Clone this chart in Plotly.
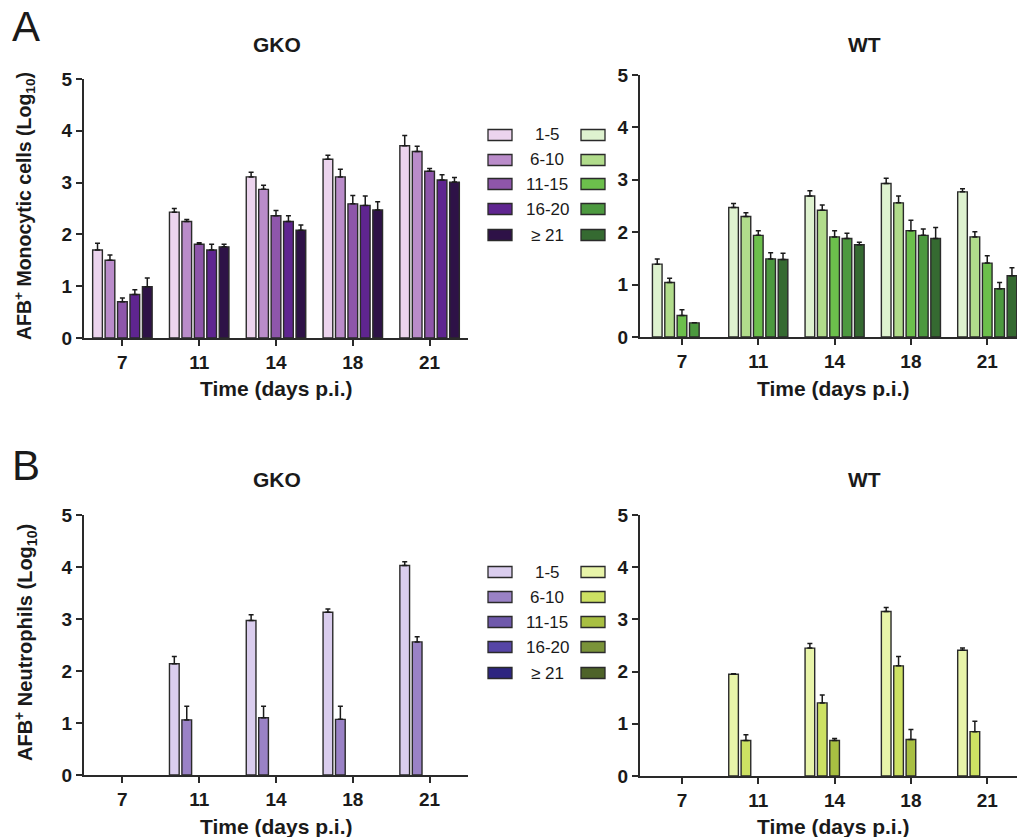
import plotly.graph_objects as go

W, H = 1017, 837

days = ["7", "11", "14", "18", "21"]
groups = ["1-5", "6-10", "11-15", "16-20", "≥ 21"]

# AFB+ monocytic cells, GKO (one list per group, values per day)
mono_gko_mean = [
    [1.70, 2.43, 3.11, 3.45, 3.71],
    [1.50, 2.25, 2.87, 3.11, 3.60],
    [0.70, 1.81, 2.36, 2.59, 3.22],
    [0.84, 1.70, 2.25, 2.56, 3.05],
    [0.99, 1.76, 2.08, 2.47, 3.01],
]
mono_gko_err = [
    [0.13, 0.07, 0.09, 0.08, 0.20],
    [0.10, 0.04, 0.08, 0.15, 0.10],
    [0.07, 0.03, 0.10, 0.16, 0.05],
    [0.09, 0.11, 0.11, 0.18, 0.10],
    [0.17, 0.05, 0.10, 0.16, 0.09],
]
# AFB+ monocytic cells, WT
mono_wt_mean = [
    [1.39, 2.47, 2.69, 2.93, 2.77],
    [1.04, 2.30, 2.42, 2.56, 1.91],
    [0.41, 1.94, 1.91, 2.03, 1.41],
    [0.27, 1.49, 1.88, 1.94, 0.92],
    [None, 1.48, 1.76, 1.88, 1.17],
]
mono_wt_err = [
    [0.10, 0.08, 0.10, 0.10, 0.06],
    [0.08, 0.07, 0.10, 0.13, 0.10],
    [0.11, 0.09, 0.12, 0.20, 0.14],
    [0.00, 0.12, 0.10, 0.12, 0.12],
    [0.00, 0.12, 0.05, 0.21, 0.15],
]
# AFB+ neutrophils, GKO
neut_gko_mean = [
    [None, 2.14, 2.97, 3.13, 4.03],
    [None, 1.06, 1.10, 1.07, 2.56],
    [None, None, None, None, None],
    [None, None, None, None, None],
    [None, None, None, None, None],
]
neut_gko_err = [
    [0, 0.14, 0.11, 0.06, 0.07],
    [0, 0.26, 0.22, 0.25, 0.10],
    [0, 0, 0, 0, 0],
    [0, 0, 0, 0, 0],
    [0, 0, 0, 0, 0],
]
# AFB+ neutrophils, WT
neut_wt_mean = [
    [None, 1.95, 2.45, 3.15, 2.41],
    [None, 0.68, 1.40, 2.11, 0.85],
    [None, None, 0.68, 0.70, None],
    [None, None, None, None, None],
    [None, None, None, None, None],
]
neut_wt_err = [
    [0, 0.01, 0.09, 0.08, 0.04],
    [0, 0.11, 0.15, 0.18, 0.20],
    [0, 0, 0.04, 0.19, 0],
    [0, 0, 0, 0, 0],
    [0, 0, 0, 0, 0],
]

col_mono_gko = ["#ecd4ee", "#ba8cca", "#8e56aa", "#5f2590", "#2e1247"]
col_mono_wt = ["#def2cf", "#b1dc8b", "#6cbf4c", "#4c993f", "#356a31"]
col_neut_gko = ["#dacdee", "#9a82c6", "#6f59ab", "#5645a6", "#2d2580"]
col_neut_wt = ["#e8f4a9", "#cde163", "#a8bf42", "#7a9339", "#4e6329"]

FONT = "Liberation Sans, Arial, sans-serif"
INK = "#1a1a1a"


def px_x(p):
    return p / W


def px_y(p):
    return 1 - p / H


panels = [
    # (means, errs, colors, axis index, x range)
    (mono_gko_mean, mono_gko_err, col_mono_gko, 1, [-0.5, 4.5]),
    (mono_wt_mean, mono_wt_err, col_mono_wt, 2, [-0.55, 4.39]),
    (neut_gko_mean, neut_gko_err, col_neut_gko, 3, [-0.5, 4.5]),
    (neut_wt_mean, neut_wt_err, col_neut_wt, 4, [-0.55, 4.39]),
]

fig = go.Figure()
for means, errs, cols, k, xr in panels:
    for g in range(5):
        fig.add_trace(go.Bar(
            x=days, y=means[g], name=groups[g],
            marker=dict(color=cols[g], line=dict(color="#2a2a2a", width=1.4)),
            error_y=dict(type="data", array=errs[g], arrayminus=[0] * 5,
                         symmetric=False, color=INK, thickness=1.5, width=2.5),
            xaxis="x" if k == 1 else f"x{k}",
            yaxis="y" if k == 1 else f"y{k}",
            showlegend=False,
        ))

# panel pixel geometry: (x_left, x_right, y_bottom(0), y_top(5))
geom = {
    1: (84, 468, 338, 79),
    2: (640, 1017, 337, 75),
    3: (84, 468, 775, 515),
    4: (640, 1017, 776, 515),
}

layout = dict(
    width=W, height=H,
    margin=dict(l=0, r=0, t=0, b=0, autoexpand=False),
    paper_bgcolor="white", plot_bgcolor="white",
    barmode="group", bargap=0.19, bargroupgap=0.22,
    font=dict(family=FONT, color=INK),
)
for k, (xl, xr_, yb, yt) in geom.items():
    xr = panels[k - 1][4]
    xa = "xaxis" if k == 1 else f"xaxis{k}"
    ya = "yaxis" if k == 1 else f"yaxis{k}"
    layout[xa] = dict(
        domain=[px_x(xl), min(1.0, px_x(xr_))], anchor="y" if k == 1 else f"y{k}",
        type="category", range=xr, showgrid=False, zeroline=False,
        showline=True, linecolor="#2a2a2a", linewidth=2,
        ticks="outside", ticklen=6, tickwidth=2, tickcolor="#2a2a2a",
        tickfont=dict(family=FONT, size=19, color=INK, weight="bold"),
        fixedrange=True, automargin=False,
    )
    layout[ya] = dict(
        domain=[px_y(yb), px_y(yt)], anchor="x" if k == 1 else f"x{k}",
        range=[0, 5], tickvals=[0, 1, 2, 3, 4, 5], showgrid=False, zeroline=False,
        showline=True, linecolor="#2a2a2a", linewidth=2,
        ticks="outside", ticklen=6, tickwidth=2, tickcolor="#2a2a2a",
        tickfont=dict(family=FONT, size=19, color=INK, weight="bold"),
        fixedrange=True, automargin=False,
    )
fig.update_layout(**layout)

ann = []
shapes = []


def text(x, y, s, size, bold=True, angle=0, anchor="center"):
    ann.append(dict(
        x=px_x(x), y=px_y(y), xref="paper", yref="paper", text=s,
        showarrow=False, textangle=angle, xanchor=anchor, yanchor="middle",
        font=dict(family=FONT, size=size, color=INK, weight="bold" if bold else "normal"),
    ))


# panel letters
text(10, 27, "A", 42, bold=False, anchor="left")
text(10, 466, "B", 42, bold=False, anchor="left")
# subplot titles
text(277, 44, "GKO", 21)
text(864, 44, "WT", 21)
text(277, 479, "GKO", 21)
text(864, 479, "WT", 21)
# x titles
text(276, 388, "Time (days p.i.)", 21)
text(833, 388, "Time (days p.i.)", 21)
text(276, 826, "Time (days p.i.)", 21)
text(833, 826, "Time (days p.i.)", 21)
# y titles
text(25, 206, "AFB<sup>+</sup> Monocytic cells (Log<sub>10</sub>)", 19.5, angle=-90)
text(25, 643, "AFB<sup>+</sup> Neutrophils (Log<sub>10</sub>)", 20, angle=-90)


def legend(rows_y, left_cols, right_cols):
    for i, yc in enumerate(rows_y):
        for (x0, x1), c in (((488, 512), left_cols[i]), ((581, 605), right_cols[i])):
            shapes.append(dict(
                type="rect", xref="paper", yref="paper",
                x0=px_x(x0), x1=px_x(x1), y0=px_y(yc + 5.5), y1=px_y(yc - 5.5),
                fillcolor=c, line=dict(color="#2a2a2a", width=1.3),
            ))
        text(547, yc, groups[i], 17, bold=False)


legend([135, 160, 184, 209, 235], col_mono_gko, col_mono_wt)
legend([572, 597, 622, 647, 673], col_neut_gko, col_neut_wt)

fig.update_layout(annotations=ann, shapes=shapes)
fig.write_html(
    "out.html",
    config={"displayModeBar": False},
    post_script="document.body.style.margin='0';document.body.style.overflow='hidden';",
)
